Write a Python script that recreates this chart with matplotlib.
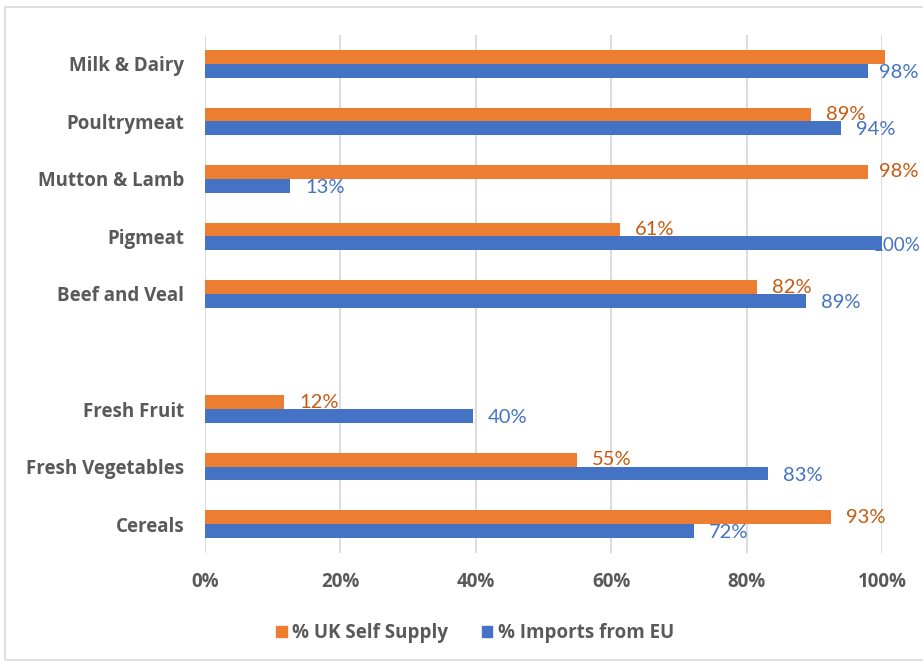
"""
UK self supply vs imports from EU, by food group
"""
import matplotlib.pyplot as plt
from matplotlib.patches import Rectangle
import numpy as np

# bottom to top, "" is the blank slot between the two groups
categories = ["Cereals", "Fresh Vegetables", "Fresh Fruit", "",
              "Beef and Veal", "Pigmeat", "Mutton & Lamb", "Poultrymeat", "Milk & Dairy"]
uk_self_supply = [92.5, 55, 11.7, None, 81.5, 61.3, 98, 89.5, 100.5]
imports_from_eu = [72.2, 83.2, 39.6, None, 88.8, 100, 12.6, 94, 98]
uk_labels = ["93%", "55%", "12%", "", "82%", "61%", "98%", "89%", ""]
eu_labels = ["72%", "83%", "40%", "", "89%", "100%", "13%", "94%", "98%"]

orange = "#ED7D31"
blue = "#4472C4"
orange_txt = "#C55A11"
grey = "#595959"

plt.rcParams['font.family'] = ['Lato', 'DejaVu Sans']
bold_font = {'family': ['Open Sans', 'DejaVu Sans'], 'weight': 'bold', 'size': 13.5}

fig = plt.figure(figsize=(9.23, 6.62), dpi=100)
ax = fig.add_axes([0.2221, 0.1647, 0.9556 - 0.2221, 0.9471 - 0.1647])

y = np.arange(len(categories))
h = 0.24
for i in range(len(categories)):
    if uk_self_supply[i] is None:
        continue
    ax.barh(y[i] + h / 2, uk_self_supply[i], height=h, color=orange, clip_on=False, zorder=3)
    ax.barh(y[i] - h / 2, imports_from_eu[i], height=h, color=blue, clip_on=False, zorder=3)
    # labels sit just past the bar end, pulled back in when near the edge
    if uk_labels[i]:
        ax.text(min(uk_self_supply[i] + 2.2, 99.5), y[i] + h / 2, uk_labels[i],
                color=orange_txt, fontsize=14.5, va='center', ha='left', clip_on=False, zorder=4)
    if eu_labels[i]:
        x = imports_from_eu[i] + 2.2
        fs = 14.5
        if len(eu_labels[i]) > 3:
            x = min(x, 98.6)
            fs = 13.5
        ax.text(min(x, 99.5), y[i] - h / 2 - 0.03, eu_labels[i],
                color=blue, fontsize=fs, va='center', ha='left', clip_on=False, zorder=4)

ax.set_xlim(0, 100)
ax.set_ylim(-0.5, len(categories) - 0.5)
ax.set_xticks(range(0, 101, 20))
ax.set_xticklabels([f"{t}%" for t in range(0, 101, 20)], color=grey, **bold_font)
ax.set_yticks(y)
ax.set_yticklabels(categories, color=grey, **bold_font)
ax.tick_params(axis='both', length=0)
ax.tick_params(axis='x', pad=14)
ax.tick_params(axis='y', pad=15)
ax.grid(axis='x', color="#D9D9D9", linewidth=1.3, zorder=0)
ax.set_axisbelow(True)
for s in ax.spines.values():
    s.set_visible(False)

handles = [Rectangle((0, 0), 1, 1, color=orange), Rectangle((0, 0), 1, 1, color=blue)]
leg = fig.legend(handles, ["% UK Self Supply", "% Imports from EU"], loc='center',
                 bbox_to_anchor=(0.515, 0.044), ncol=2, frameon=False,
                 handlelength=0.55, handleheight=0.55, handletextpad=0.3,
                 columnspacing=1.8, prop=bold_font)
for t in leg.get_texts():
    t.set_color(grey)

# chart border
fig.patches.append(Rectangle((0.005, 0.003), 1.0, 0.986, transform=fig.transFigure,
                             fill=False, edgecolor="#D9D9D9", linewidth=1.2))

plt.savefig("out.png", dpi=100)
